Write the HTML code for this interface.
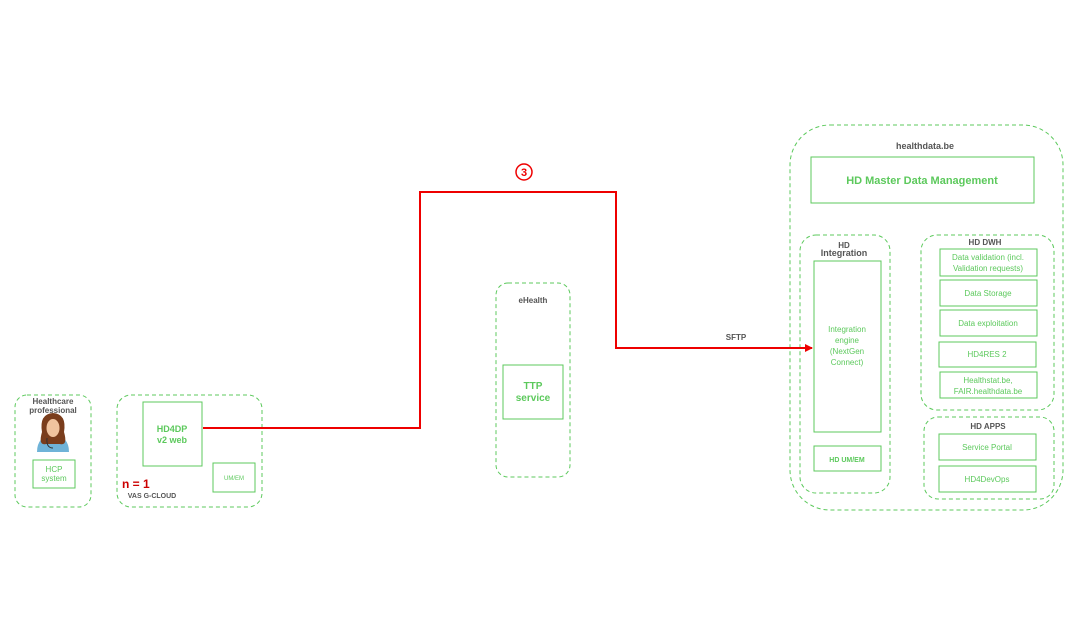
<!DOCTYPE html>
<html><head><meta charset="utf-8"><style>
body{margin:0;background:#fff;}
svg text{font-family:"Liberation Sans",Arial,sans-serif;}
</style></head><body>
<svg width="1090" height="613" viewBox="0 0 1090 613" xmlns="http://www.w3.org/2000/svg">
<defs><marker id="ar" markerWidth="8" markerHeight="8" refX="7" refY="4" orient="auto" markerUnits="userSpaceOnUse"><path d="M0,0 L8,4 L0,8 Z" fill="#e00"/></marker></defs>
<g fill="none" stroke="#5cc95c" stroke-width="1" stroke-dasharray="4,3">
<rect x="15" y="395" width="76" height="112" rx="12"/>
<rect x="117" y="395" width="145" height="112" rx="14"/>
<rect x="496" y="283" width="74" height="194" rx="12"/>
<rect x="790" y="125" width="273" height="385" rx="40"/>
<rect x="800" y="235" width="90" height="258" rx="16"/>
<rect x="921" y="235" width="133" height="175" rx="16"/>
<rect x="924" y="417" width="130" height="82" rx="14"/>
</g>
<g fill="#fff" stroke="#5cc95c" stroke-width="1">
<rect x="33" y="460" width="42" height="28"/>
<rect x="143" y="402" width="59" height="64"/>
<rect x="213" y="463" width="42" height="29"/>
<rect x="503" y="365" width="60" height="54"/>
<rect x="811" y="157" width="223" height="46"/>
<rect x="814" y="261" width="67" height="171"/>
<rect x="814" y="446" width="67" height="25"/>
<rect x="940" y="249" width="97" height="27"/>
<rect x="940" y="280" width="97" height="26"/>
<rect x="940" y="310" width="97" height="26"/>
<rect x="939" y="342" width="97" height="25"/>
<rect x="940" y="372" width="97" height="26"/>
<rect x="939" y="434" width="97" height="26"/>
<rect x="939" y="466" width="97" height="26"/>
</g>
<polyline points="203,428 420,428 420,192 616,192 616,348 812,348" fill="none" stroke="#e00" stroke-width="2" marker-end="url(#ar)"/>
<g>
<path d="M37,452 Q37,436 53,435 Q69,436 69,452 Z" fill="#6fb3d8"/>
<path d="M42,432 Q39,414 53,413 Q67,414 64,432 Q68,446 60,444 L46,444 Q38,446 42,432Z" fill="#7a3d1c"/>
<ellipse cx="53" cy="428" rx="6.5" ry="9" fill="#f0c39e"/>
<path d="M47,438 Q46,448 53,448" fill="none" stroke="#333" stroke-width="1"/>
</g>
<g font-size="8" fill="#555" font-weight="bold" text-anchor="middle">
<text x="53" y="404">Healthcare</text>
<text x="53" y="413">professional</text>
</g>
<g font-size="8" fill="#5cc95c" text-anchor="middle">
<text x="54" y="472">HCP</text><text x="54" y="481">system</text>
<text x="234" y="480" font-size="6">UM/EM</text>
<text x="847" y="332">Integration</text><text x="847" y="343">engine</text>
<text x="847" y="354">(NextGen</text><text x="847" y="365">Connect)</text>
<text x="988" y="260">Data validation (incl.</text>
<text x="988" y="271">Validation requests)</text>
<text x="988" y="296">Data Storage</text>
<text x="988" y="326">Data exploitation</text>
<text x="987" y="357">HD4RES  2</text>
<text x="988" y="383">Healthstat.be,</text>
<text x="988" y="394">FAIR.healthdata.be</text>
<text x="987" y="450">Service Portal</text>
<text x="987" y="482">HD4DevOps</text>
</g>
<g font-weight="bold" fill="#5cc95c" text-anchor="middle">
<text x="172" y="432" font-size="9">HD4DP</text><text x="172" y="443" font-size="9">v2 web</text>
<text x="533" y="389" font-size="10">TTP</text><text x="533" y="401" font-size="10">service</text>
<text x="922" y="184" font-size="11">HD Master Data Management</text>
<text x="847" y="462" font-size="7">HD UM/EM</text>
</g>
<g font-weight="bold" fill="#555" text-anchor="middle" font-size="8">
<text x="533" y="303">eHealth</text>
<text x="925" y="149" font-size="9">healthdata.be</text>
<text x="844" y="248">HD</text><text x="844" y="256" font-size="9">Integration</text>
<text x="985" y="245">HD DWH</text>
<text x="988" y="429">HD APPS</text>
<text x="736" y="340">SFTP</text>
<text x="152" y="498" font-size="7">VAS  G-CLOUD</text>
</g>
<text x="122" y="488" font-size="12" font-weight="bold" fill="#c00" font-family="Liberation Sans">n = 1</text>
<circle cx="524" cy="172" r="8" fill="none" stroke="#e00" stroke-width="1.5"/>
<text x="524" y="176" font-size="11" font-weight="bold" fill="#e00" text-anchor="middle">3</text>
</svg>
</body></html>
